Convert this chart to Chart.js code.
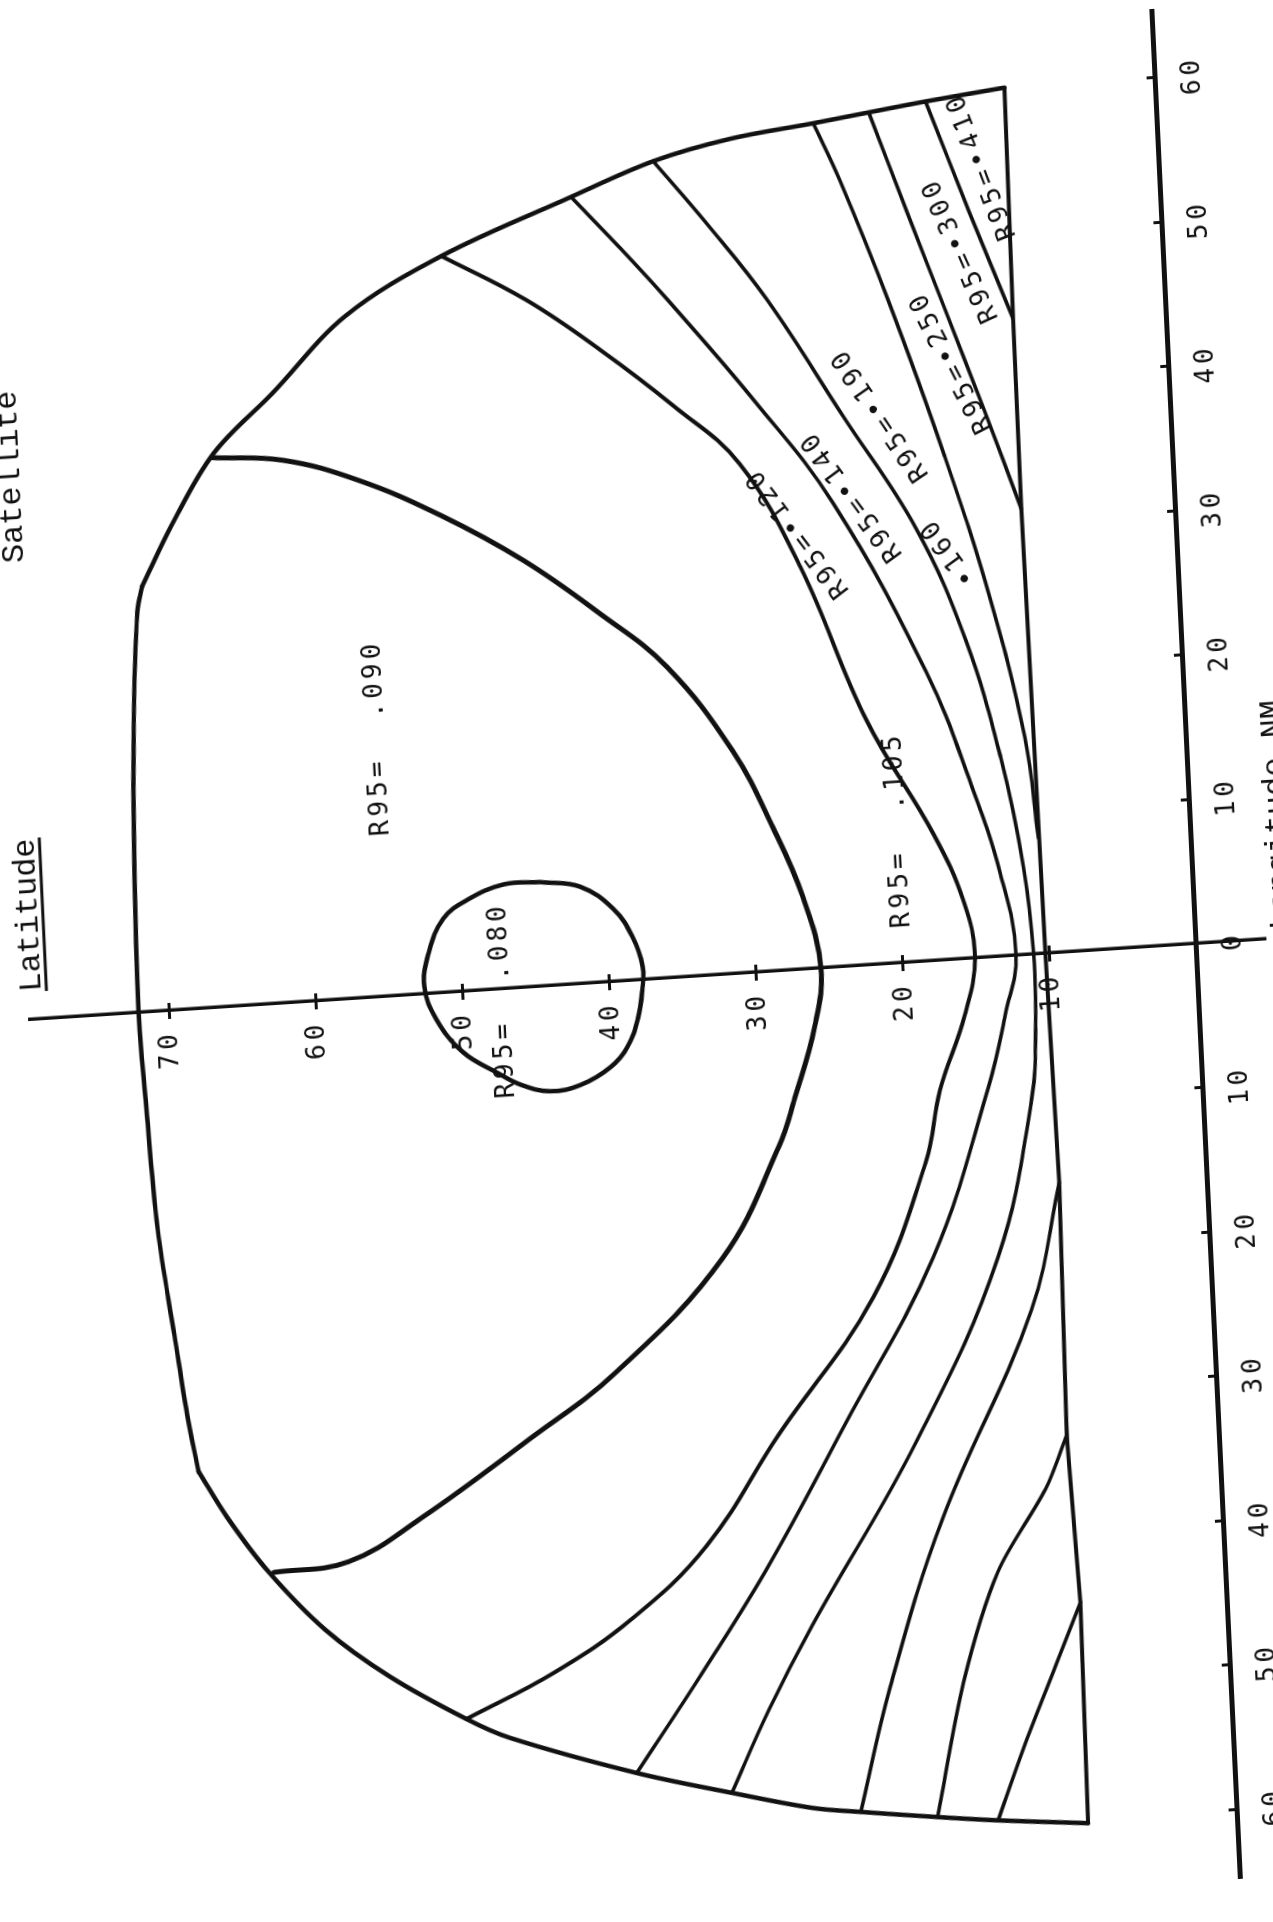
<!DOCTYPE html>
<html>
<head>
<meta charset="utf-8">
<script src="https://cdn.jsdelivr.net/npm/chart.js@4/dist/chart.umd.min.js"></script>
<style>
  html, body { margin: 0; padding: 0; background: #fff; width: 1273px; height: 1922px; overflow: hidden; }
  #plot { position: absolute; }
  #plot canvas { display: block; }
</style>
</head>
<body>
<div id="plot"><canvas id="chart"></canvas></div>
<script>
// ---- axis ticks ----
const lonTicks = [-60, -50, -40, -30, -20, -10, 0, 10, 20, 30, 40, 50, 60];
const latTicks = [10, 20, 30, 40, 50, 60, 70];

// ---- domain outline [longitude, latitude] ----
const boundaryEast = [[60.0,10.3],[59.4,15.7],[58.9,19.6],[58.4,23.4],[57.7,29.1],[56.5,34.4],[54.4,40.1],[50.9,49.1],[47.2,55.8],[42.2,61.0],[38.3,65.2],[33.5,68.3],[29.4,70.5]];
const boundaryTop = [[29.4,70.5],[27.7,70.9],[20.0,71.5],[10.7,71.9],[0.2,72.1],[-6.1,71.9],[-15.1,71.5],[-22.5,70.7],[-28.0,70.1],[-32.0,69.5]];
const boundaryWest = [[-32.0,69.5],[-35.3,67.7],[-39.2,65.1],[-43.5,61.4],[-47.0,57.2],[-50.3,52.1],[-51.8,49.2],[-54.8,40.7],[-56.6,34.3],[-58.0,28.9],[-58.5,25.6],[-59.2,20.4],[-59.7,16.3],[-60.3,10.2]];
const boundarySouth = [[60.0,10.3],[44.0,10.45],[30.8,10.5],[0.0,10.3],[-15.9,10.1],[-33.4,10.4],[-45.0,10.0],[-60.3,10.2]];

// ---- R95 isolines [longitude, latitude] ----
const contour1 = [[38.0,65.3],[37.5,60.5],[35.8,55.5],[33.0,50.0],[29.5,44.5],[25.5,39.5],[21.5,35.1],[15.4,30.9],[9.9,28.4],[5.0,26.6],[0.0,25.6],[-4.0,26.2],[-8.9,27.8],[-12.1,29.0],[-19.6,33.2],[-27.0,40.8],[-31.3,47.0],[-36.2,54.5],[-38.9,59.6],[-39.3,64.7]];
const contour2 = [[50.9,49.1],[47.5,43.5],[43.7,38.6],[39.5,33.8],[35.2,29.5],[27.8,25.7],[16.9,21.7],[8.7,17.5],[4.0,15.7],[0.0,15.1],[-4.0,16.0],[-9.0,17.9],[-13.9,19.1],[-23.0,23.1],[-32.1,30.0],[-39.4,35.2],[-44.1,40.5],[-47.5,46.0],[-50.3,52.1]];
const contour3 = [[54.4,40.1],[50.5,36.8],[46.9,33.9],[39.5,28.3],[32.1,23.3],[20.0,17.5],[12.0,14.8],[5.7,13.1],[0.0,12.3],[-4.0,13.2],[-9.0,14.6],[-20.5,18.9],[-31.6,25.4],[-40.8,30.9],[-48.0,35.8],[-54.8,40.7]];
const contour4 = [[56.5,34.4],[52.0,31.0],[46.4,27.1],[38.0,22.3],[29.9,17.7],[22.0,14.7],[13.7,12.7],[6.0,11.5],[0.0,11.1],[-5.0,11.2],[-10.0,11.7],[-20.8,14.5],[-33.1,20.6],[-45.4,28.3],[-51.0,31.5],[-56.6,34.3]];
const contour5East = [[58.4,23.4],[54.4,21.8],[45.9,18.9],[35.0,15.6],[24.7,12.9],[15.0,11.0],[8.0,10.4]];
const contour5West = [[-15.9,10.1],[-24.6,12.4],[-38.6,19.1],[-50.0,23.2],[-58.5,25.6]];
const contour6East = [[58.9,19.6],[51.8,17.3],[44.8,15.0],[37.8,12.7],[30.8,10.5]];
const contour6West = [[-33.4,10.4],[-37.0,12.0],[-42.5,15.5],[-50.0,18.2],[-59.2,20.4]];
const contour7East = [[59.4,15.7],[51.6,13.1],[44.0,10.45]];
const contour7West = [[-45.0,10.0],[-49.3,11.9],[-54.5,14.2],[-59.7,16.3]];
const circle080 = [[7.2,44.4],[6.7,41.7],[5.0,39.5],[3.0,38.3],[0.9,37.7],[-0.7,37.8],[-2.7,38.2],[-4.6,39.0],[-5.9,40.2],[-7.0,42.3],[-7.3,44.4],[-6.7,46.4],[-5.8,47.9],[-4.2,50.2],[-1.8,51.9],[0.5,52.6],[2.8,52.2],[5.1,51.1],[6.3,49.4],[7.2,46.9],[7.2,44.4]];

// ---- isoline labels: text, longitude, latitude, angle (deg) ----
const isolineLabels = [
  ['R95=\u2022410', 54.7, 12.1, -18],
  ['R95=\u2022300', 49.0, 13.8, -21],
  ['R95=\u2022250', 41.3, 14.8, -24],
  ['R95=\u2022190', 38.0, 19.8, -31],
  ['\u2022160', 28.2, 15.6, -33],
  ['R95=\u2022140', 32.5, 22.0, -33],
  ['R95=\u2022120', 30.2, 25.8, -34],
  ['R95=  .105', 9.2, 19.9, 0],
  ['R95=  .090', 17.9, 55.0, 0],
  ['R95=  .080', -0.8, 47.3, 0]
];
// ---- typed annotations: text, longitude, latitude (baseline), alignment, underline ----
const annotations = [
  ['Latitude', 1.9, 78.7, 'left', true],
  ['Satellite', 31.6, 78.5, 'left', false],
  ['Longitude NM', 16.5, -6.45, 'right', false]
];

// ---- layout ----
const LON_MIN = -64.7, LON_MAX = 64.7, LAT_MIN = -4.7, LAT_MAX = 79.5;
const PX_LON = 14.44, PX_LAT = 14.70;
const PAD = { left: 30, right: 30, top: 90, bottom: 90 };
const W = Math.round(PAD.left + PAD.right + (LON_MAX - LON_MIN) * PX_LON);
const H = Math.round(PAD.top + PAD.bottom + (LAT_MAX - LAT_MIN) * PX_LAT);
const ORIGIN_PAGE = { x: 1196, y: 944 };
const originX = PAD.left + (0 - LON_MIN) * PX_LON;
const originY = PAD.top + (LAT_MAX - 0) * PX_LAT;

const canvas = document.getElementById('chart');
canvas.width = W; canvas.height = H;
canvas.style.width = W + 'px'; canvas.style.height = H + 'px';
const plot = document.getElementById('plot');
plot.style.left = (ORIGIN_PAGE.x - originX) + 'px';
plot.style.top = (ORIGIN_PAGE.y - originY) + 'px';
plot.style.transformOrigin = originX + 'px ' + originY + 'px';
// the sheet is printed turned on its side
plot.style.transform = 'matrix(-0.0473, -0.9989, 0.9979, -0.0651, 0, 0)';

const PLOT_FONT = '"DejaVu Sans Mono", monospace';
const TYPE_FONT = '"Liberation Mono", "DejaVu Sans Mono", monospace';
const INK = '#111';

const toXY = arr => arr.map(p => ({ x: p[0], y: p[1] }));
const line = (arr, width, tension) => ({
  data: toXY(arr), showLine: true, fill: false, pointRadius: 0,
  borderColor: INK, borderWidth: width, tension: tension,
  borderCapStyle: 'round', borderJoinStyle: 'round'
});

const datasets = [
  line(boundaryEast, 4.5, 0.35),
  line(boundaryTop, 4.5, 0.35),
  line(boundaryWest, 4.5, 0.35),
  line(boundarySouth, 4, 0),
  line(contour1, 5, 0.4),
  line(contour2, 4, 0.4),
  line(contour3, 3.6, 0.4),
  line(contour4, 3.6, 0.4),
  line(contour5East, 3.6, 0.4),
  line(contour5West, 3.6, 0.4),
  line(contour6East, 3.6, 0.3),
  line(contour6West, 3.6, 0.3),
  line(contour7East, 3.6, 0.3),
  line(contour7West, 3.6, 0.3),
  line(circle080, 4.5, 0.4)
];

const textSpacing = {
  id: 'textSpacing',
  beforeDraw(chart) { chart.ctx.letterSpacing = '4px'; }
};

const labelPlugin = {
  id: 'isolineText',
  afterDraw(chart) {
    const { ctx } = chart;
    const sx = chart.scales.x, sy = chart.scales.y;
    ctx.save();
    ctx.fillStyle = INK;
    ctx.letterSpacing = '4px';
    ctx.font = '26px ' + PLOT_FONT;
    ctx.textAlign = 'center';
    ctx.textBaseline = 'middle';
    isolineLabels.forEach(([text, lon, lat, ang]) => {
      ctx.save();
      ctx.translate(sx.getPixelForValue(lon), sy.getPixelForValue(lat));
      ctx.rotate(ang * Math.PI / 180);
      ctx.fillText(text, 0, 0);
      ctx.restore();
    });
    ctx.letterSpacing = '0px';
    ctx.font = '32px ' + TYPE_FONT;
    ctx.textBaseline = 'alphabetic';
    ctx.strokeStyle = INK;
    ctx.lineWidth = 3;
    annotations.forEach(([text, lon, lat, align, underline]) => {
      const px = sx.getPixelForValue(lon), py = sy.getPixelForValue(lat);
      ctx.textAlign = align;
      ctx.fillText(text, px, py);
      if (underline) {
        const w = ctx.measureText(text).width;
        const x0 = align === 'left' ? px : px - w;
        ctx.beginPath();
        ctx.moveTo(x0, py + 6);
        ctx.lineTo(x0 + w, py + 6);
        ctx.stroke();
      }
    });
    ctx.restore();
  }
};

const tickFont = { family: PLOT_FONT, size: 26 };

new Chart(canvas.getContext('2d'), {
  type: 'scatter',
  data: { datasets },
  options: {
    responsive: false,
    animation: false,
    devicePixelRatio: 1,
    layout: { padding: PAD },
    plugins: { legend: { display: false }, tooltip: { enabled: false } },
    scales: {
      x: {
        type: 'linear', min: LON_MIN, max: LON_MAX, position: { y: 0 },
        afterBuildTicks: s => { s.ticks = lonTicks.map(v => ({ value: v })); },
        border: { display: true, color: INK, width: 5 },
        grid: { drawOnChartArea: false, drawTicks: true, tickLength: -11, tickWidth: 3, tickColor: INK },
        ticks: { color: INK, font: tickFont, padding: 33, maxRotation: 0, autoSkip: false,
                 callback: v => String(Math.abs(v)) }
      },
      y: {
        type: 'linear', min: LAT_MIN, max: LAT_MAX, position: { x: 0 },
        afterBuildTicks: s => { s.ticks = latTicks.map(v => ({ value: v })); },
        border: { display: true, color: INK, width: 3.5 },
        grid: { drawOnChartArea: false, drawTicks: true, tickLength: 7, tickWidth: 3, tickColor: INK },
        ticks: { color: INK, font: tickFont, padding: 0, autoSkip: false,
                 callback: v => v + ' ' }
      },
      y2: {
        type: 'linear', min: LAT_MIN, max: LAT_MAX, position: { x: 0 },
        afterBuildTicks: s => { s.ticks = latTicks.map(v => ({ value: v })); },
        border: { display: false },
        grid: { drawOnChartArea: false, drawTicks: true, tickLength: -7, tickWidth: 3, tickColor: INK },
        ticks: { display: false }
      }
    }
  },
  plugins: [textSpacing, labelPlugin]
});
</script>
</body>
</html>
